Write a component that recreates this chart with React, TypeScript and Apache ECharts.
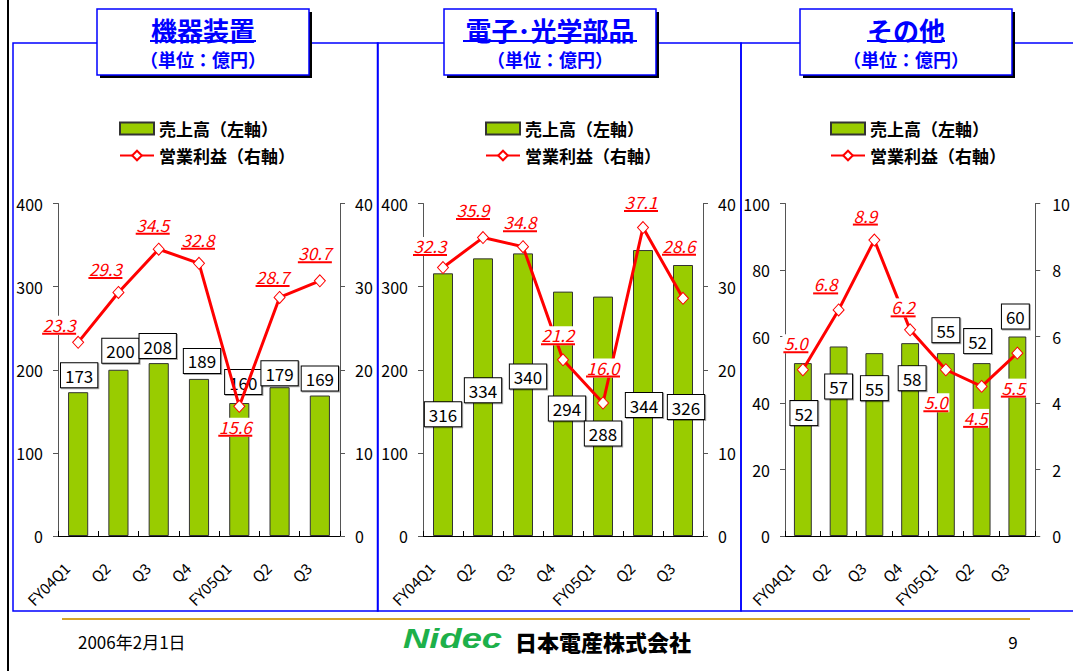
import React, { useEffect, useRef } from 'react';
import * as echarts from 'echarts';

const FONT = "'Noto Sans CJK JP', 'Noto Sans', sans-serif";

const categories = ['FY04Q1', 'Q2', 'Q3', 'Q4', 'FY05Q1', 'Q2', 'Q3'];

const sales1 = [173, 200, 208, 189, 160, 179, 169];
const profit1 = [23.3, 29.3, 34.5, 32.8, 15.6, 28.7, 30.7];
const sales2 = [316, 334, 340, 294, 288, 344, 326];
const profit2 = [32.3, 35.9, 34.8, 21.2, 16.0, 37.1, 28.6];
const sales3 = [52, 57, 55, 58, 55, 52, 60];
const profit3 = [5.0, 6.8, 8.9, 6.2, 5.0, 4.5, 5.5];

const titles = ['機器装置', '電子･光学部品', 'その他'];
const unitText = '（単位：億円）';
const SALES_NAME = '売上高（左軸）';
const PROFIT_NAME = '営業利益（右軸）';
const dateText = '2006年2月1日';
const pageText = '9';

// label placement (styling, not data)
const barOffsets1 = [[1, -5], [2, -7], [-1, -5], [3, -6], [4, -9], [0, -2], [0, -5]];
const barOffsets2 = [[0, 153], [0, 144], [5, 135], [4, 129], [0, 149], [1, 167], [3, 154]];
const barOffsets3 = [[1, 62], [0, 52], [0, 47], [2, 47], [0, -11], [-4, -10], [-2, -8]];
const lineOffsets1 = [[-19, -17], [-13, -23], [-6, -24], [-1, -23], [-4, 21], [-7, -20], [-5, -27]];
const lineOffsets2 = [[-13, -21], [-10, -27], [-3, -24], [-5, -24], [0, -35], [-2, -25], [-4, -52]];
const lineOffsets3 = [[-7, -26], [-13, -25], [-9, -24], [-7, -22], [-10, 33], [-6, 32], [-4, 35]];

const panels = [
  { sales: sales1, profit: profit1, leftMax: 400, leftInt: 100, rightMax: 40, rightInt: 10,
    gridLeft: 58, gridWidth: 282, frameX: 13, frameW: 365, boxX: 97, legendX: 119, ulW: 106, rMargin: 15,
    barOffsets: barOffsets1, lineOffsets: lineOffsets1 },
  { sales: sales2, profit: profit2, leftMax: 400, leftInt: 100, rightMax: 40, rightInt: 10,
    gridLeft: 423, gridWidth: 280, frameX: 377.5, frameW: 363.5, boxX: 444, legendX: 485, ulW: 174, rMargin: 15,
    barOffsets: barOffsets2, lineOffsets: lineOffsets2 },
  { sales: sales3, profit: profit3, leftMax: 100, leftInt: 20, rightMax: 10, rightInt: 2,
    gridLeft: 785, gridWidth: 259, frameX: 741, frameW: 345, boxX: 800, legendX: 830, ulW: 78, rMargin: 17,
    barOffsets: barOffsets3, lineOffsets: lineOffsets3 },
];

const BOX_W = 212;
const BOX_H = 66;

function buildOption() {
  const grid = panels.map((p) => ({ left: p.gridLeft, top: 203.5, width: p.gridWidth, height: 332.5 }));

  const xAxis = panels.map((p, i) => ({
    type: 'category',
    gridIndex: i,
    data: categories,
    axisLine: { lineStyle: { color: '#000', width: 1 } },
    axisTick: { show: true, inside: true, length: 5, interval: 0, lineStyle: { color: '#000' } },
    axisLabel: {
      interval: 0, rotate: 45, fontSize: 15, color: '#000', margin: 18,
      padding: [0, 16, 0, 0], fontFamily: FONT,
    },
  }));

  const yAxis: any[] = [];
  panels.forEach((p, i) => {
    const common = {
      type: 'value',
      gridIndex: i,
      min: 0,
      splitLine: { show: false },
      axisLine: { show: true, lineStyle: { color: '#555', width: 1 } },
      axisTick: { show: true, length: 5, lineStyle: { color: '#555' } },
    };
    yAxis.push({ ...common, position: 'left', max: p.leftMax, interval: p.leftInt,
      axisLabel: { fontSize: 16, color: '#000', margin: 15, fontFamily: FONT } });
    yAxis.push({ ...common, position: 'right', max: p.rightMax, interval: p.rightInt,
      axisLabel: { fontSize: 16, color: '#000', margin: p.rMargin, fontFamily: FONT } });
  });

  const series: any[] = [];
  panels.forEach((p, i) => {
    series.push({
      type: 'bar',
      name: SALES_NAME,
      xAxisIndex: i,
      yAxisIndex: 2 * i,
      barWidth: '50%',
      itemStyle: { color: '#99CC00', borderColor: '#333', borderWidth: 1 },
      data: p.sales.map((v, j) => ({ value: v, label: { offset: p.barOffsets[j] } })),
      label: {
        show: true,
        position: 'top',
        distance: 0,
        formatter: '{c}',
        fontSize: 17,
        lineHeight: 18,
        color: '#000',
        fontFamily: FONT,
        backgroundColor: '#fff',
        borderColor: '#000',
        borderWidth: 1,
        padding: [3, 4],
        shadowColor: 'rgba(0,0,0,0.35)',
        shadowOffsetX: 1,
        shadowOffsetY: 1,
        shadowBlur: 1,
      },
    });
    series.push({
      type: 'line',
      name: PROFIT_NAME,
      xAxisIndex: i,
      yAxisIndex: 2 * i + 1,
      symbol: 'diamond',
      symbolSize: [11, 12],
      lineStyle: { color: '#FF0000', width: 3 },
      itemStyle: { color: '#fff', borderColor: '#FF0000', borderWidth: 1 },
      data: p.profit.map((v, j) => ({ value: v, label: { offset: p.lineOffsets[j] } })),
      label: {
        show: true,
        position: 'inside',
        formatter: (prm: any) => {
          const s = Number(prm.value).toFixed(1);
          return `{a|${s}}\n{${s.length > 3 ? 'u4' : 'u3'}|}`;
        },
        backgroundColor: '#fff',
        padding: [0, 1],
        fontSize: 17,
        rich: {
          a: { fontSize: 17, fontStyle: 'italic', color: '#FF0000', lineHeight: 17, fontFamily: FONT, align: 'center' },
          u3: { width: 25, height: 2, backgroundColor: '#FF0000', align: 'center' },
          u4: { width: 34, height: 2, backgroundColor: '#FF0000', align: 'center' },
        },
      },
    });
  });

  const legend: any[] = [];
  panels.forEach((p) => {
    const common = {
      left: p.legendX,
      orient: 'vertical',
      padding: 0,
      itemWidth: 34,
      itemHeight: 12,
      selectedMode: false,
      textStyle: { fontSize: 17, fontWeight: 'bold', color: '#000', fontFamily: FONT },
    };
    legend.push({ ...common, top: 120, data: [{ name: SALES_NAME, icon: 'rect' }] });
    legend.push({ ...common, top: 147, data: [{ name: PROFIT_NAME }] });
  });

  const elements: any[] = [];
  elements.push({ type: 'line', shape: { x1: 8, y1: 0, x2: 8, y2: 671 }, style: { stroke: '#000', lineWidth: 2 } });
  panels.forEach((p) => {
    elements.push({
      type: 'rect',
      shape: { x: p.frameX, y: 43, width: p.frameW, height: 568 },
      style: { fill: 'none', stroke: '#0000FF', lineWidth: 1.5 },
    });
  });
  panels.forEach((p, i) => {
    const cx = p.boxX + BOX_W / 2;
    elements.push({ type: 'rect', shape: { x: p.boxX + 3, y: 12, width: BOX_W, height: BOX_H }, style: { fill: '#000' } });
    elements.push({
      type: 'rect',
      shape: { x: p.boxX, y: 9, width: BOX_W, height: BOX_H },
      style: { fill: '#fff', stroke: '#0000FF', lineWidth: 1.5 },
    });
    elements.push({
      type: 'text', x: cx, y: 29,
      style: {
        text: titles[i], fill: '#0000FF', fontSize: 26, fontWeight: 'bold', fontFamily: FONT,
        textAlign: 'center', textVerticalAlign: 'middle',
      },
    });
    elements.push({ type: 'rect', shape: { x: cx - p.ulW / 2, y: 40, width: p.ulW, height: 2 }, style: { fill: '#0000FF' } });
    elements.push({
      type: 'text', x: cx, y: 58.5,
      style: {
        text: unitText, fill: '#0000FF', fontSize: 18, fontWeight: 'bold', fontFamily: FONT,
        textAlign: 'center', textVerticalAlign: 'middle',
      },
    });
  });
  elements.push({ type: 'rect', shape: { x: 62, y: 618, width: 968, height: 2 }, style: { fill: '#D4A52A' } });
  elements.push({
    type: 'text', x: 78, y: 641,
    style: { text: dateText, fill: '#000', fontSize: 17, fontFamily: FONT, textAlign: 'left', textVerticalAlign: 'middle' },
  });
  elements.push({
    type: 'text', x: 1013, y: 641,
    style: { text: pageText, fill: '#000', fontSize: 17, fontFamily: FONT, textAlign: 'center', textVerticalAlign: 'middle' },
  });
  elements.push({
    type: 'text', x: 403, y: 639, scaleX: 1.3,
    style: {
      text: 'Nidec', fill: '#1DB04A', fontSize: 28, fontWeight: 'bold', fontStyle: 'italic',
      fontFamily: "'Liberation Sans', Arial, sans-serif", textAlign: 'left', textVerticalAlign: 'middle',
    },
  });
  elements.push({
    type: 'text', x: 515, y: 641,
    style: {
      text: '日本電産株式会社', fill: '#000', fontSize: 22, fontWeight: 900, fontFamily: FONT,
      textAlign: 'left', textVerticalAlign: 'middle',
    },
  });

  return {
    animation: false,
    backgroundColor: '#fff',
    textStyle: { fontFamily: FONT },
    grid,
    xAxis,
    yAxis,
    series,
    legend,
    graphic: { elements },
  };
}

export default function App() {
  const ref = useRef<HTMLDivElement>(null);
  useEffect(() => {
    if (!ref.current) return;
    const chart = echarts.init(ref.current, undefined, { renderer: 'svg' });
    chart.setOption(buildOption() as any);
    return () => chart.dispose();
  }, []);
  return (
    <div
      ref={ref}
      style={{ position: 'fixed', left: 0, top: 0, width: 1073, height: 671, background: '#fff' }}
    />
  );
}
